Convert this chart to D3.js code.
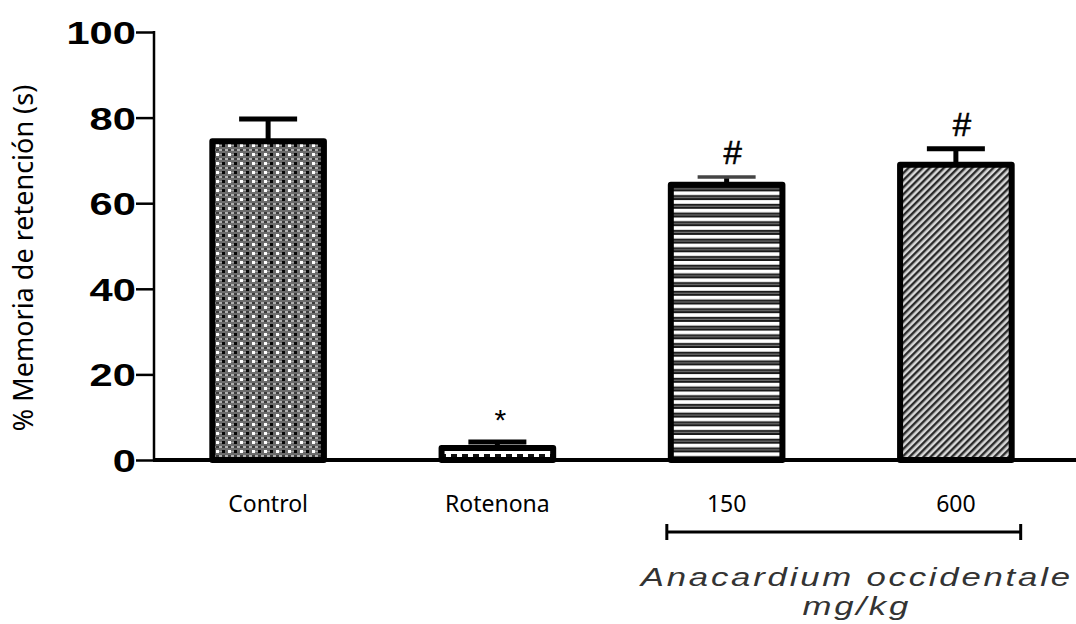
<!DOCTYPE html>
<html>
<head>
<meta charset="utf-8">
<script src="https://cdn.jsdelivr.net/npm/d3@7/dist/d3.min.js"></script>
<style>
  html, body { margin: 0; padding: 0; background: #fff; }
  svg { display: block; }
</style>
</head>
<body>
<svg id="chart" width="1076" height="624"></svg>
<script>
// Retention memory by group (mean ± error)
const categories = ["Control", "Rotenona", "150", "600"];
const means = [74.5, 2.8, 64.3, 69.0];
const errors = [5.2, 1.4, 1.8, 3.7];
const markers = ["", "*", "#", "#"];
const yTicks = [0, 20, 40, 60, 80, 100];
const yLabel = "% Memoria de retención (s)";
const groupLabel = "Anacardium occidentale";
const unitLabel = "mg/kg";
const bracketGroups = ["150", "600"];

const svg = d3.select("#chart");
const W = 1076, H = 624;
const margin = { top: 32, left: 154, bottom: 164 };

const y = d3.scaleLinear().domain([0, 100]).range([460, 32]);
const x = d3.scaleBand()
  .domain(categories)
  .range([152, 1072])
  .paddingInner(0.487)
  .paddingOuter(0.25);

// ---- fill patterns ----
const defs = svg.append("defs");

// halftone-like dotted fill for Control
const pc = defs.append("pattern").attr("id", "pat-control")
  .attr("patternUnits", "userSpaceOnUse").attr("width", 12).attr("height", 9);
pc.append("rect").attr("width", 12).attr("height", 9).attr("fill", "#6c6c6c");
pc.append("rect").attr("x", 0).attr("y", 5).attr("width", 3).attr("height", 2).attr("fill", "#3c3c3c");
pc.append("rect").attr("x", 6).attr("y", 5).attr("width", 3).attr("height", 2).attr("fill", "#3c3c3c");
pc.append("rect").attr("x", 3).attr("y", 5).attr("width", 3).attr("height", 2).attr("fill", "#b0b0b0");
pc.append("rect").attr("x", 9).attr("y", 5).attr("width", 3).attr("height", 2).attr("fill", "#b0b0b0");
pc.append("rect").attr("x", 0).attr("y", 0).attr("width", 3).attr("height", 3).attr("fill", "#fff");
pc.append("rect").attr("x", 6).attr("y", 0).attr("width", 3).attr("height", 3).attr("fill", "#050505");
pc.append("rect").attr("x", 3).attr("y", 1).attr("width", 3).attr("height", 1).attr("fill", "#a0a0a0");

// dashes for Rotenona
const pr = defs.append("pattern").attr("id", "pat-rot")
  .attr("patternUnits", "userSpaceOnUse").attr("width", 11).attr("height", 6)
  .attr("y", 451);
pr.append("rect").attr("width", 11).attr("height", 6).attr("fill", "#fff");
pr.append("rect").attr("x", 0).attr("y", 3).attr("width", 6).attr("height", 3).attr("fill", "#111");

// horizontal stripes for 150
const ph = defs.append("pattern").attr("id", "pat-h")
  .attr("patternUnits", "userSpaceOnUse").attr("width", 10).attr("height", 8.7);
ph.append("rect").attr("width", 10).attr("height", 8.7).attr("fill", "#fff");
ph.append("rect").attr("y", 3.7).attr("width", 10).attr("height", 5).attr("fill", "#1a1a1a");
ph.append("rect").attr("y", 5.5).attr("width", 10).attr("height", 1.2).attr("fill", "#777");

// diagonal hatch for 600
const pd = defs.append("pattern").attr("id", "pat-d")
  .attr("patternUnits", "userSpaceOnUse").attr("width", 5).attr("height", 5)
  .attr("patternTransform", "rotate(45)");
pd.append("rect").attr("width", 5).attr("height", 5).attr("fill", "#d8d8d8");
pd.append("rect").attr("x", 0).attr("width", 2.4).attr("height", 5).attr("fill", "#2a2a2a");

const fills = ["url(#pat-control)", "url(#pat-rot)", "url(#pat-h)", "url(#pat-d)"];

// ---- axes ----
const yAxis = svg.append("g")
  .attr("transform", `translate(${margin.left},0)`)
  .call(d3.axisLeft(y).tickValues(yTicks).tickSize(18).tickSizeOuter(0));
yAxis.select(".domain").attr("stroke", "#000").attr("stroke-width", 2.5)
  .attr("d", `M0,${y(100) - 1}V${y(0)}`);
yAxis.selectAll(".tick line").attr("stroke", "#000").attr("stroke-width", 2.5);
yAxis.selectAll(".tick text")
  .attr("x", -14)
  .attr("dy", "0.36em")
  .attr("transform", "scale(1.3,1)")
  .attr("font-family", "Liberation Sans, Arial, sans-serif")
  .attr("font-weight", "bold")
  .attr("font-size", 32)
  .attr("fill", "#000");

// bars
const bars = svg.append("g");
categories.forEach((c, i) => {
  const bx = x(c), bw = x.bandwidth(), cx = bx + bw / 2;
  // error bar (drawn first, bar covers stem base)
  const yTop = y(means[i] + errors[i]);
  const capHalf = 29;
  bars.append("line")
    .attr("x1", cx).attr("x2", cx)
    .attr("y1", yTop).attr("y2", y(means[i]))
    .attr("stroke", "#000").attr("stroke-width", 5);
  bars.append("line")
    .attr("x1", cx - capHalf).attr("x2", cx + capHalf)
    .attr("y1", yTop).attr("y2", yTop)
    .attr("stroke", c === "150" ? "#444" : "#000")
    .attr("stroke-width", c === "150" ? 3.5 : 5);
  bars.append("rect")
    .attr("x", bx + 3).attr("y", y(means[i]))
    .attr("width", bw - 6).attr("height", y(0) - y(means[i]))
    .attr("fill", fills[i])
    .attr("stroke", "#000").attr("stroke-width", 6)
    .attr("stroke-linejoin", "round");
  if (markers[i]) {
    bars.append("text")
      .attr("x", cx + (markers[i] === "#" ? 6 : 3))
      .attr("y", markers[i] === "#" ? yTop - 13 : yTop - 12)
      .attr("text-anchor", "middle")
      .attr("font-family", "Liberation Sans, Arial, sans-serif")
      .attr("font-size", markers[i] === "#" ? 33 : 30)
      .attr("fill", "#000")
      .attr("stroke", markers[i] === "#" ? "#000" : "none")
      .attr("stroke-width", 0.6)
      .text(markers[i]);
  }
});

// x baseline
svg.append("line")
  .attr("x1", margin.left - 1).attr("x2", W)
  .attr("y1", y(0)).attr("y2", y(0))
  .attr("stroke", "#000").attr("stroke-width", 4);

// category labels
svg.append("g").selectAll("text")
  .data(categories).join("text")
  .attr("x", d => x(d) + x.bandwidth() / 2)
  .attr("y", 512)
  .attr("text-anchor", "middle")
  .attr("font-family", "Noto Sans, Open Sans, sans-serif")
  .attr("font-size", 23)
  .attr("fill", "#000")
  .text(d => d);

// y-axis title
svg.append("text")
  .attr("transform", "translate(33,258) rotate(-90)")
  .attr("text-anchor", "middle")
  .attr("font-family", "Noto Sans, Open Sans, sans-serif")
  .attr("font-size", 27)
  .attr("fill", "#000")
  .text(yLabel);

// bracket grouping the dose levels
const bx1 = x(bracketGroups[0]) - 1;
const bx2 = x(bracketGroups[1]) + x.bandwidth() + 6;
const by = 532;
const br = svg.append("g").attr("stroke", "#000").attr("stroke-width", 3);
br.append("line").attr("x1", bx1).attr("x2", bx2).attr("y1", by).attr("y2", by);
br.append("line").attr("x1", bx1).attr("x2", bx1).attr("y1", by - 8).attr("y2", by + 8);
br.append("line").attr("x1", bx2).attr("x2", bx2).attr("y1", by - 8).attr("y2", by + 8);

// group caption
const capX = (bx1 + bx2) / 2 + 13;
const capStyle = t => t
  .attr("text-anchor", "middle")
  .attr("font-family", "Liberation Sans, Arial, sans-serif")
  .attr("font-style", "italic")
  .attr("font-size", 25)
  .attr("letter-spacing", 2)
  .attr("fill", "#333");
svg.append("text")
  .attr("transform", `translate(${capX},586) scale(1.39,1)`)
  .call(capStyle)
  .text(groupLabel);
svg.append("text")
  .attr("transform", `translate(${capX},615) scale(1.39,1)`)
  .call(capStyle)
  .text(unitLabel);
</script>
</body>
</html>
